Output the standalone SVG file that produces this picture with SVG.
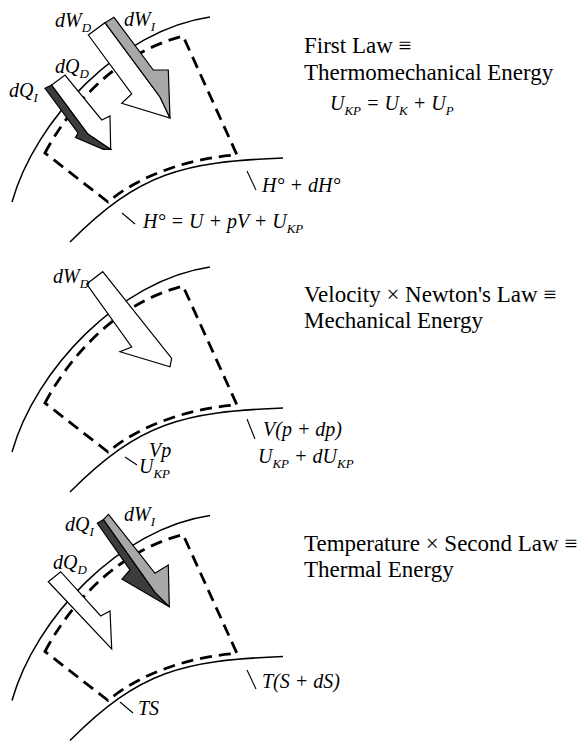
<svg xmlns="http://www.w3.org/2000/svg" width="582" height="742" viewBox="0 0 582 742">
<style>
.arc{fill:none;stroke:#000;stroke-width:1.5}
.dash{fill:none;stroke:#000;stroke-width:2.8;stroke-dasharray:12 7}
.ar{stroke:#000;stroke-width:1.2;stroke-linejoin:miter}
.w{fill:#fff}
.g{fill:#a8a8a8}
.k{fill:#3c3c3c}
.tick{stroke:#000;stroke-width:1.1}
.m{font-family:"Liberation Serif",serif;font-style:italic;font-size:20px;fill:#000}
.s{font-size:13px}
.h{font-family:"Liberation Serif",serif;font-size:23px;fill:#000}
</style>
<defs>
<g id="frame">
<path class="arc" d="M12,202 C35,120 120,30 210,17"/>
<path class="arc" d="M70,242 C140,172 183,162 283,158"/>
<path class="dash" d="M45,153 C65,115 110,55 183,36 L237,155 C190,158 140,175 108,202 Z"/>
</g>
</defs>
<rect width="582" height="742" fill="#fff"/>

<g id="panel1">
<use href="#frame"/>
<g id="arrow-dW-1">
<polygon class="ar w" points="88.3,35 105,22.7 160,97 170,118 121.7,103.3 131.7,94"/>
<polygon class="ar g" points="105,22.7 114,17.3 153.3,70 168.3,70 170,118 160,97"/>
</g>
<g id="arrow-dQ-1">
<polygon class="ar k" points="45,88.3 51.7,85 88,134 110.7,149.3 103.3,149.3 75.5,137.5 78,133"/>
<polygon class="ar w" points="51.7,85 65,75 101.7,120 110,116 110.7,149.3 88,134"/>
</g>
<line class="tick" x1="247" y1="171" x2="256" y2="190"/>
<line class="tick" x1="122" y1="213" x2="135" y2="224"/>
<text class="m" x="55" y="27">dW<tspan class="s" dy="5">D</tspan></text>
<text class="m" x="124" y="26">dW<tspan class="s" dy="5">I</tspan></text>
<text class="m" x="55" y="73">dQ<tspan class="s" dy="5">D</tspan></text>
<text class="m" x="9" y="97">dQ<tspan class="s" dy="5">I</tspan></text>
<text class="m" x="262" y="192">H° + dH°</text>
<text class="m" x="143" y="228">H° = U + pV + U<tspan class="s" dy="5">KP</tspan></text>
<text class="h" x="304" y="53">First Law ≡</text>
<text class="h" x="304" y="80">Thermomechanical Energy</text>
<text class="m" x="330" y="110">U<tspan class="s" dy="5">KP</tspan><tspan dy="-5"> = U</tspan><tspan class="s" dy="5">K</tspan><tspan dy="-5"> + U</tspan><tspan class="s" dy="5">P</tspan></text>
</g>

<g id="panel2">
<use href="#frame" transform="translate(0,250)"/>
<g id="arrow-dW-2">
<polygon class="ar w" points="86.7,284 102.7,271.7 171.7,358.3 170,366.7 120,351.7 131.7,347"/>
</g>
<line class="tick" x1="247" y1="419" x2="255" y2="439"/>
<line class="tick" x1="125" y1="457" x2="137" y2="465"/>
<text class="m" x="149" y="457">Vp</text>
<text class="m" x="139" y="473">U<tspan class="s" dy="5">KP</tspan></text>
<text class="m" x="53" y="283">dW<tspan class="s" dy="5">D</tspan></text>
<text class="m" x="263" y="436">V(p + dp)</text>
<text class="m" x="258" y="463">U<tspan class="s" dy="5">KP</tspan><tspan dy="-5"> + dU</tspan><tspan class="s" dy="5">KP</tspan></text>
<text class="h" x="304" y="302">Velocity × Newton's Law ≡</text>
<text class="h" x="304" y="328">Mechanical Energy</text>
</g>

<g id="panel3">
<use href="#frame" transform="translate(0,498.5)"/>
<g id="arrow-dW-3">
<polygon class="ar k" points="97.3,523.3 103.5,519.5 155,592.3 169.3,606.7 122,579 130,570"/>
<polygon class="ar g" points="103.5,519.5 108.5,514.3 155,573.3 168.3,565 169.3,606.7 155,592.3"/>
</g>
<g id="arrow-dQ-3">
<polygon class="ar w" points="48.3,581.7 60.7,571.7 100.7,616 110,611 111.7,649"/>
</g>
<line class="tick" x1="247" y1="670" x2="256" y2="689"/>
<line class="tick" x1="120" y1="702" x2="133" y2="713"/>
<text class="m" x="65" y="531">dQ<tspan class="s" dy="5">I</tspan></text>
<text class="m" x="124" y="521">dW<tspan class="s" dy="5">I</tspan></text>
<text class="m" x="53" y="569">dQ<tspan class="s" dy="5">D</tspan></text>
<text class="m" x="262" y="688">T(S + dS)</text>
<text class="m" x="138" y="715">TS</text>
<text class="h" x="304" y="551">Temperature × Second Law ≡</text>
<text class="h" x="304" y="577">Thermal Energy</text>
</g>
</svg>
